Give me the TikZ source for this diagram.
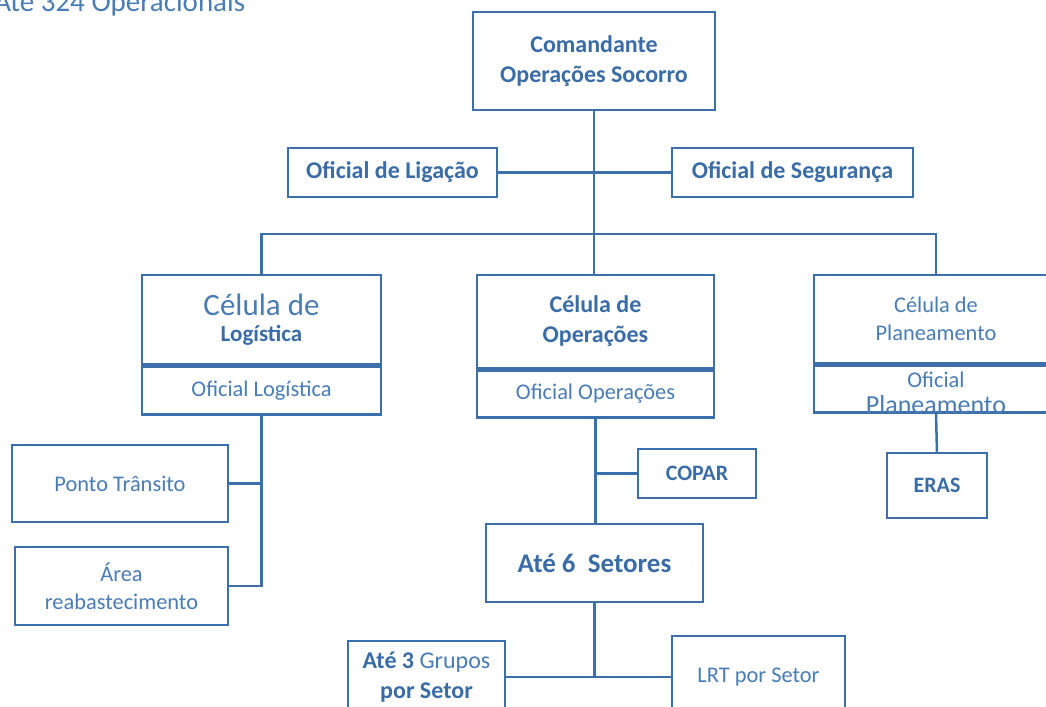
\documentclass[tikz,border=0pt]{standalone}
\usepackage{fontspec}
\setmainfont{Carlito}
\usetikzlibrary{positioning}
\definecolor{lineblue}{HTML}{3D6FAA}
\definecolor{txtblue}{HTML}{3A6CA8}
\definecolor{lighttxt}{HTML}{4A7CB6}

\tikzset{
    box/.style={draw=lineblue, line width=1.25pt, fill=white, align=center,
        inner sep=0pt, text=txtblue},
    boldtxt/.style={font=\fontsize{12}{15}\selectfont\bfseries},
    plaintxt/.style={font=\fontsize{11.2}{14}\selectfont, text=lighttxt},
    link/.style={draw=lineblue, line width=1.25pt},
    thinlink/.style={draw=lineblue, line width=0.6pt}
}

\begin{document}
\begin{tikzpicture}[x=0.5pt, y=-0.5pt]
    \useasboundingbox (0,0) rectangle (1046,707);

    % Title (cut off at the top)
    \node[anchor=base west, inner sep=0pt, text=lighttxt,
        font=\fontsize{14.5}{16}\selectfont] (title) at (-6,11) {Até 324 Operacionais};

    % Command and staff
    \node[box, boldtxt, minimum width=121pt, minimum height=49pt] (cmd) at (594,61)
        {Comandante\\Operações Socorro};
    \node[box, boldtxt, minimum width=104.5pt, minimum height=24.5pt] (lig) at (392.5,172.5)
        {Oficial de Ligação};
    \node[box, boldtxt, minimum width=120.5pt, minimum height=24.5pt] (seg) at (792.5,172.5)
        {Oficial de Segurança};

    % Cells
    \node[box, minimum width=119.5pt, minimum height=44.5pt] (logT) at (261.5,319.5)
        {{\fontsize{15.5}{17}\selectfont\color{lighttxt}Célula de}\\[1pt]
         {\fontsize{11.5}{14}\selectfont\bfseries Logística}};
    \node[box, plaintxt, minimum width=119.5pt, minimum height=24pt, below=0pt of logT] (logB)
        {Oficial Logística};

    \node[box, boldtxt, minimum width=118.5pt, minimum height=46.5pt] (opT) at (595.5,321.5)
        {Célula de\\Operações};
    \node[box, plaintxt, minimum width=118.5pt, minimum height=23.5pt, below=0pt of opT] (opB)
        {Oficial Operações};

    \node[box, plaintxt, minimum width=122pt, minimum height=44pt] (plaT) at (936,319)
        {Célula de\\Planeamento};
    \node[box, minimum width=122pt, minimum height=23.5pt, below=0pt of plaT] (plaB) {};
    \node[plaintxt, align=center, inner sep=0pt] (plaBtxt) at ([yshift=-2pt]plaB.center)
        {Oficial\\[-1pt]{\fontsize{13}{14}\selectfont Planeamento}};

    % Logistics units
    \node[box, plaintxt, minimum width=108pt, minimum height=38.5pt] (pto) at (120,483.5)
        {Ponto Trânsito};
    \node[box, plaintxt, minimum width=106.5pt, minimum height=39pt] (area) at (121.5,586)
        {Área\\reabastecimento};

    % Operations units
    \node[box, boldtxt, font=\fontsize{11}{13}\selectfont\bfseries,
        minimum width=59pt, minimum height=24.5pt] (copar) at (697,473.5) {COPAR};
    \node[box, font=\fontsize{13.5}{16}\selectfont\bfseries,
        minimum width=108.5pt, minimum height=39pt] (set) at (594.5,563) {Até 6~ Setores};
    \node[box, boldtxt, minimum width=78.5pt, minimum height=36pt] (grp) at (426.5,677)
        {Até 3 {\mdseries\color{lighttxt}Grupos}\\por Setor};
    \node[box, plaintxt, minimum width=86.5pt, minimum height=41pt] (lrt) at (758.5,677)
        {LRT por Setor};

    % Planning unit
    \node[box, font=\fontsize{11}{13}\selectfont\bfseries,
        minimum width=50pt, minimum height=32.5pt] (eras) at (937,485.5) {ERAS};

    % Connectors
    \draw[thinlink] (cmd.south) -- (cmd.south |- opT.north);
    \draw[link] (lig.east) -- (seg.west);
    \draw[link] (logT.north) -- ++(0,-40) -| (plaT.north);
    \draw[link] (logB.south) |- (area.east);
    \draw[link] (pto.east) -- (pto.east -| logB.south);
    \draw[link] (opB.south) -- (opB.south |- set.north);
    \draw[link] (copar.west) -- (copar.west -| opB.south);
    \coordinate (split) at (set.south |- grp.east);
    \draw[link] (set.south) -- (split);
    \draw[link] (grp.east) -- (lrt.west);
    \draw[link] (plaB.south) -- (eras.north);
\end{tikzpicture}
\end{document}
